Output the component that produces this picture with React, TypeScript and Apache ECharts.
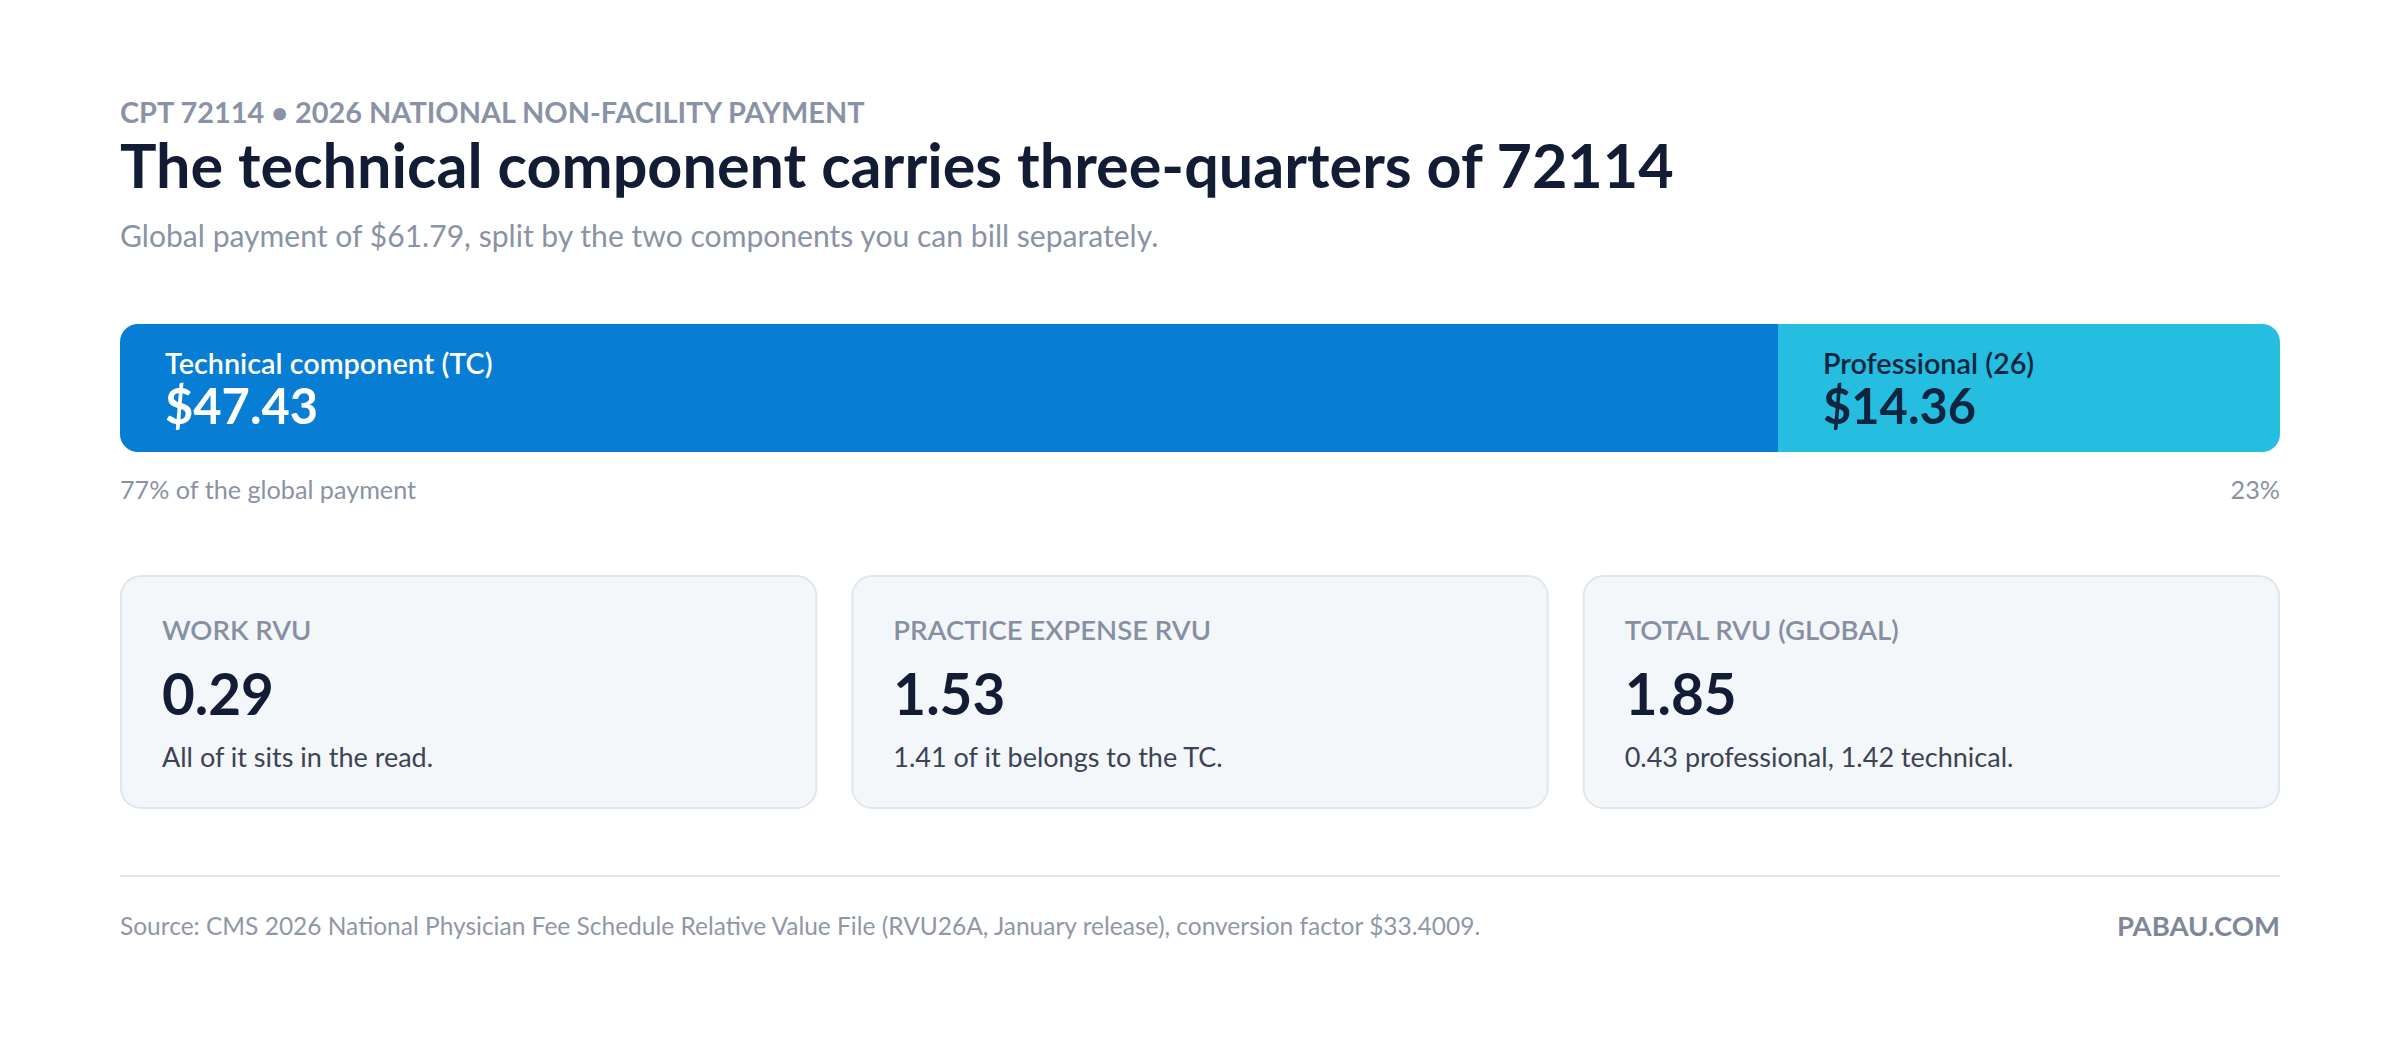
import React, { useEffect, useRef } from "react";
import * as echarts from "echarts";

// ---------- data ----------
const components = ["Technical component (TC)", "Professional (26)"];
const payments = [47.43, 14.36];
const shareSuffix = [" of the global payment", ""];
const cardTitles = ["WORK RVU", "PRACTICE EXPENSE RVU", "TOTAL RVU (GLOBAL)"];
const cardValues = [0.29, 1.53, 1.85];
const cardNotes = [
  "All of it sits in the read.",
  "1.41 of it belongs to the TC.",
  "0.43 professional, 1.42 technical.",
];
const eyebrow = "CPT 72114 • 2026 NATIONAL NON-FACILITY PAYMENT";
const title = "The technical component carries three-quarters of 72114";
const sourceNote =
  "Source: CMS 2026 National Physician Fee Schedule Relative Value File (RVU26A, January release), conversion factor $33.4009.";
const brand = "PABAU.COM";

// ---------- style ----------
const FONT = "Lato, 'Noto Sans', sans-serif";
const NAVY = "#131c35";
const GRAY = "#8a93a5";
const barColors = ["#077dd3", "#25bde0"];
const barLabelColors = ["#ffffff", "#0e2540"];

function fit(text: string, weight: string | number, target: number): number {
  const c = document.createElement("canvas").getContext("2d");
  if (!c) return 20;
  c.font = `${weight} 100px ${FONT}`;
  const w = c.measureText(text).width;
  return Math.round((target / w) * 1000) / 10;
}

export default function App() {
  const ref = useRef<HTMLDivElement>(null);

  useEffect(() => {
    if (!ref.current) return;
    const chart = echarts.init(ref.current, undefined, { renderer: "svg" });
    const total = payments.reduce((a, b) => a + b, 0);
    const subtitle = `Global payment of $${total.toFixed(2)}, split by the two components you can bill separately.`;

    const L = 120;
    const R = 2280;
    const eyebrowSize = fit(eyebrow, "bold", 747);
    const titleSize = fit(title, "bold", 1555);
    const subSize = fit(subtitle, "normal", 1042);
    const barLabelSize = fit(components[0], 600, 328);
    const barValueSize = fit("$47.43", "bold", 153);
    const shareSize = fit("77% of the global payment", "normal", 297);
    const cardLabelSize = fit(cardTitles[2], 600, 275);
    const cardValueSize = fit("1.85", "bold", 112);
    const cardNoteSize = fit(cardNotes[2], "normal", 388);
    const footSize = fit(sourceNote, "normal", 1361);
    const brandSize = fit(brand, "bold", 163);

    const txt = (
      text: string,
      x: number,
      y: number,
      size: number,
      weight: string | number,
      fill: string,
      align: string = "left"
    ) => ({
      type: "text",
      x,
      y,
      z: 10,
      style: {
        text,
        fontSize: size,
        fontWeight: weight,
        fontFamily: FONT,
        fill,
        align,
        verticalAlign: "middle",
      },
    });

    const cardW = (R - L - 2 * 34) / 3;
    const cardTop = 575;
    const cardH = 234;
    const graphics: any[] = [
      txt(eyebrow, L, 111, eyebrowSize, "bold", GRAY),
      txt(title, L, 164, titleSize, "bold", NAVY),
      txt(subtitle, L, 235, subSize, "normal", GRAY),
    ];
    payments.forEach((v, i) => {
      const pct = Math.round((v / total) * 100) + "%" + shareSuffix[i];
      graphics.push(txt(pct, i === 0 ? L : R, 489, shareSize, "normal", GRAY, i === 0 ? "left" : "right"));
    });
    cardTitles.forEach((t, i) => {
      const x = L + i * (cardW + 34);
      graphics.push({
        type: "rect",
        z: 1,
        shape: { x: x + 1, y: cardTop + 1, width: cardW - 2, height: cardH - 2, r: 20 },
        style: { fill: "#f4f7fa", stroke: "#e1e6ee", lineWidth: 2 },
      });
      graphics.push(txt(t, x + 42, 629, cardLabelSize, 600, "#8690a2"));
      graphics.push(txt(cardValues[i].toFixed(2), x + 42, 693, cardValueSize, "bold", NAVY));
      graphics.push(txt(cardNotes[i], x + 42, 756, cardNoteSize, "normal", "#3b4354"));
    });
    graphics.push({
      type: "line",
      z: 1,
      shape: { x1: L, y1: 876, x2: R, y2: 876 },
      style: { stroke: "#e2e6ec", lineWidth: 2 },
    });
    graphics.push(txt(sourceNote, L, 925, footSize, "normal", "#8f97a8"));
    graphics.push(txt(brand, R, 925, brandSize, "bold", "#7f889b", "right"));

    chart.setOption({
      animation: false,
      backgroundColor: "#ffffff",
      grid: { left: L, right: 2400 - R, top: 324, height: 128, containLabel: false },
      xAxis: { type: "value", min: 0, max: total, show: false },
      yAxis: { type: "category", data: ["72114"], show: false },
      series: components.map((name, i) => ({
        type: "bar",
        name,
        stack: "global",
        data: [payments[i]],
        barWidth: 128,
        itemStyle: {
          color: barColors[i],
          borderRadius: i === 0 ? [18, 0, 0, 18] : [0, 18, 18, 0],
        },
        label: {
          show: true,
          position: "insideLeft",
          distance: 45,
          formatter: (p: any) => `{a|${p.seriesName}}\n{b|$${Number(p.value).toFixed(2)}}`,
          rich: {
            a: {
              fontSize: barLabelSize,
              fontWeight: 600,
              fontFamily: FONT,
              color: barLabelColors[i],
              lineHeight: 34,
            },
            b: {
              fontSize: barValueSize,
              fontWeight: "bold",
              fontFamily: FONT,
              color: barLabelColors[i],
              lineHeight: 51,
            },
          },
        },
      })),
      graphic: graphics,
    });
    return () => chart.dispose();
  }, []);

  return (
    <div
      ref={ref}
      style={{ position: "fixed", left: 0, top: 0, width: 2400, height: 1040 }}
    />
  );
}
